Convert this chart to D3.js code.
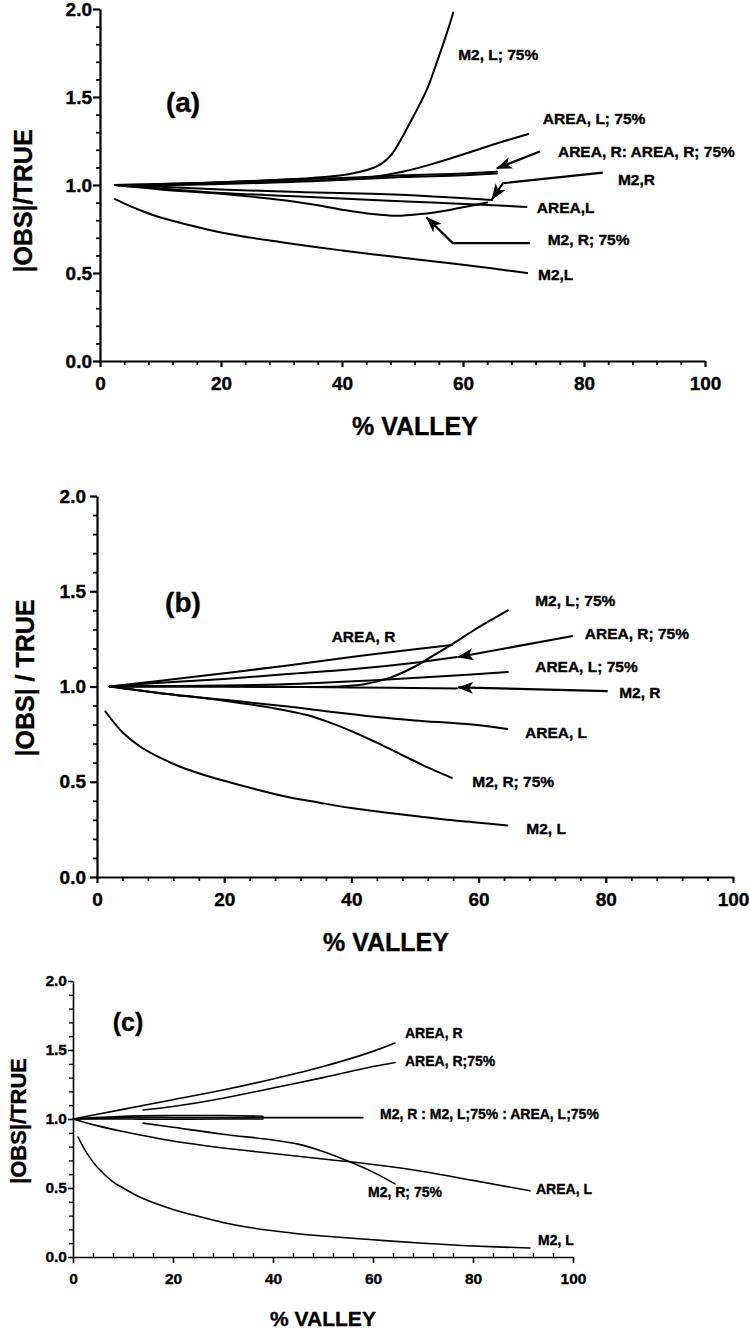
<!DOCTYPE html>
<html><head><meta charset="utf-8">
<script src="https://cdn.jsdelivr.net/npm/d3@7/dist/d3.min.js"></script>
<style>
body{margin:0;background:#fff}
svg{display:block}
text{font-family:"Liberation Sans",Arial,Helvetica,sans-serif;font-weight:bold;fill:#000;stroke:#000;stroke-width:0.35px}
</style></head>
<body><svg id="chart" width="750" height="1329"></svg>
<script>
// ---------- tick values / labels ----------
const xTickValues = [0, 20, 40, 60, 80, 100];
const yTickValues = [0, 0.5, 1.0, 1.5, 2.0];
const xTitle = "% VALLEY";

// ---------- panel (a) series: [% valley, |OBS|/TRUE] ----------
const a_M2_L = [[2.5,0.92],[5,0.88],[7.5,0.845],[10,0.815],[15,0.77],[20,0.73],[25,0.70],[30,0.675],[35,0.65],[40,0.628],[45,0.607],[50,0.587],[55,0.567],[60,0.547],[65,0.525],[70.6,0.50]];
const a_M2_L75 = [[2.5,1.0],[10,1.005],[20,1.015],[30,1.03],[35,1.04],[40,1.055],[43,1.075],[45,1.095],[46.5,1.12],[48,1.165],[49.6,1.25],[51.8,1.39],[54,1.54],[55.6,1.69],[57.3,1.86],[58.4,1.98]];
const a_AREA_L75 = [[2.5,1.0],[10,1.0],[20,1.005],[30,1.015],[40,1.03],[45,1.045],[50,1.075],[55,1.12],[60.6,1.18],[65,1.23],[70.8,1.29]];
const a_AREA_R = [[2.5,1.0],[10,1.005],[20,1.015],[30,1.03],[40,1.04],[50,1.055],[60,1.065],[65.6,1.075]];
const a_AREA_R75 = [[2.5,1.0],[10,1.0],[20,1.01],[30,1.02],[40,1.03],[50,1.045],[60,1.055],[65.6,1.065]];
const a_M2_R = [[2.5,1.0],[10,0.99],[20,0.975],[33,0.96],[45,0.95],[55,0.935],[64.8,0.915]];
const a_AREA_L = [[2.5,1.0],[10,0.98],[20,0.955],[33,0.935],[45,0.915],[55,0.90],[65,0.885],[70.5,0.875]];
const a_M2_R75 = [[2.5,1.0],[10,0.975],[20,0.95],[30,0.915],[35,0.89],[40,0.86],[45,0.835],[49,0.825],[53,0.835],[58,0.86],[64,0.90]];

// ---------- panel (b) series ----------
const b_M2_L = [[1.3,0.87],[4,0.76],[7,0.68],[10,0.625],[13,0.58],[16,0.545],[20,0.505],[25,0.46],[30,0.42],[35,0.39],[40,0.362],[45,0.34],[50,0.32],[55,0.30],[60,0.285],[64.5,0.27]];
const b_AREA_R = [[2,1.0],[10,1.03],[20,1.07],[30,1.11],[40,1.155],[50,1.195],[55.8,1.218]];
const b_AREA_R75 = [[2,1.0],[10,1.02],[20,1.04],[30,1.065],[40,1.09],[50,1.125],[56.6,1.155]];
const b_M2_L75 = [[2,1.0],[20,1.0],[38,1.0],[42,1.012],[46,1.045],[50,1.105],[53,1.165],[56,1.225],[59,1.29],[62,1.35],[64.6,1.40]];
const b_AREA_L75 = [[2,1.0],[20,1.005],[32,1.015],[45,1.035],[55,1.055],[64.6,1.076]];
const b_M2_R = [[2,1.0],[20,1.0],[40,0.995],[56.6,0.99]];
const b_AREA_L = [[2,1.0],[10,0.965],[20,0.93],[30,0.895],[36,0.87],[44,0.84],[50,0.822],[59,0.80],[64.5,0.777]];
const b_M2_R75 = [[2,1.0],[10,0.965],[20,0.925],[28,0.885],[33,0.85],[36,0.818],[40,0.766],[44,0.705],[48,0.64],[52,0.575],[55.8,0.52]];

// ---------- panel (c) series ----------
const c_M2_L = [[1,0.87],[2,0.80],[3,0.74],[5,0.645],[8,0.545],[10,0.50],[13,0.44],[16,0.395],[20,0.345],[25,0.295],[30,0.25],[35,0.215],[40,0.19],[45,0.168],[50,0.152],[60,0.125],[70,0.10],[80,0.08],[91.4,0.065]];
const c_AREA_R = [[0,1.0],[10,1.07],[20,1.14],[30,1.21],[40,1.29],[50,1.38],[60,1.49],[64.4,1.55]];
const c_AREA_R75 = [[14,1.065],[20,1.09],[30,1.15],[40,1.225],[50,1.30],[60,1.38],[64.4,1.41]];
const c_M2_R = [[0,1.0],[10,1.01],[20,1.01],[30,1.01],[40,1.01],[50,1.01],[58,1.01]];
const c_M2_L75 = [[0,1.0],[10,1.02],[20,1.025],[30,1.025],[38,1.02]];
const c_AREA_L75 = [[0,1.0],[10,1.0],[20,0.998],[30,1.0],[38,1.0]];
const c_AREA_L = [[0,1.0],[5,0.95],[10,0.91],[20,0.84],[30,0.79],[40,0.75],[50,0.71],[60,0.67],[70,0.62],[80,0.555],[91.4,0.48]];
const c_M2_R75 = [[14,0.97],[20,0.94],[30,0.89],[40,0.848],[45,0.818],[50,0.765],[55,0.695],[60,0.615],[64.4,0.53]];

// ---------- curve labels (anchored in data coordinates) ----------
const a_labels = [
  {t:"M2, L; 75%", x:59.2, y:1.74},
  {t:"AREA, L; 75%", x:73.2, y:1.38},
  {t:"AREA, R: AREA, R; 75%", x:75.7, y:1.19},
  {t:"M2,R", x:85.6, y:1.03},
  {t:"AREA,L", x:72.2, y:0.875},
  {t:"M2, R; 75%", x:74.0, y:0.69},
  {t:"M2,L", x:72.4, y:0.494}
];
const a_arrows = [
  [[72.7,1.19],[65.6,1.095]],
  [[83.1,1.07],[66.6,1.01],[64.8,0.92]],
  [[71.1,0.67],[58.3,0.67],[54.0,0.815]]
];
const b_labels = [
  {t:"AREA, R", x:36.9, y:1.265},
  {t:"M2, L; 75%", x:68.9, y:1.454},
  {t:"AREA, R; 75%", x:76.7, y:1.281},
  {t:"AREA, L; 75%", x:68.9, y:1.108},
  {t:"M2, R", x:82.1, y:0.971},
  {t:"AREA, L", x:67.3, y:0.761},
  {t:"M2, R; 75%", x:59.0, y:0.504},
  {t:"M2, L", x:67.5, y:0.257}
];
const b_arrows = [
  [[74.8,1.265],[56.8,1.155]],
  [[80.3,0.976],[56.8,0.995]]
];
const c_labels = [
  {t:"AREA, R", x:66.4, y:1.623},
  {t:"AREA, R;75%", x:66.4, y:1.42},
  {t:"M2, R : M2, L;75% : AREA, L;75%", x:61.4, y:1.036},
  {t:"M2, R; 75%", x:59.0, y:0.471},
  {t:"AREA, L", x:92.6, y:0.493},
  {t:"M2, L", x:93.0, y:0.123}
];
const c_arrows = [];

// ---------- layout ----------
const panels = [
  {tag:"(a)", yTitle:"|OBS|/TRUE", l:100, r:705, t:9, b:361,
   series:[a_M2_L,a_M2_L75,a_AREA_L75,a_AREA_R,a_AREA_R75,a_M2_R,a_AREA_L,a_M2_R75],
   labels:a_labels, arrows:a_arrows,
   lw:2, aw:2.2, tickFont:19, yTickSize:7, yPad:1, xPad:10, labelFont:15.5,
   tagPos:[183,102], tagFont:28, xTitlePos:[415,426], xTitleFont:25, yTitlePos:[23,201], yTitleFont:25, minorUp:false},
  {tag:"(b)", yTitle:"|OBS| / TRUE", l:97, r:733, t:496, b:877,
   series:[b_M2_L,b_AREA_R,b_AREA_R75,b_M2_L75,b_AREA_L75,b_M2_R,b_AREA_L,b_M2_R75],
   labels:b_labels, arrows:b_arrows,
   lw:2, aw:2.2, tickFont:19, yTickSize:7, yPad:4, xPad:10, labelFont:15.5,
   tagPos:[183,602], tagFont:28, xTitlePos:[386,942], xTitleFont:25, yTitlePos:[25,678], yTitleFont:25, minorUp:false},
  {tag:"(c)", yTitle:"|OBS|/TRUE", l:73, r:573, t:981, b:1257,
   series:[c_M2_L,c_AREA_R,c_AREA_R75,c_M2_R,c_M2_L75,c_AREA_L75,c_AREA_L,c_M2_R75],
   labels:c_labels, arrows:c_arrows,
   lw:1.6, aw:1.6, tickFont:15.5, yTickSize:5, yPad:1, xPad:10, labelFont:14,
   tagPos:[128,1022], tagFont:25, xTitlePos:[323,1318], xTitleFont:21, yTitlePos:[18,1121], yTitleFont:22, minorUp:true}
];

const svg = d3.select("#chart");
const defs = svg.append("defs");
defs.append("marker").attr("id","arrowhead")
  .attr("markerUnits","userSpaceOnUse")
  .attr("viewBox","0 0 16 12").attr("refX",15).attr("refY",6)
  .attr("markerWidth",16).attr("markerHeight",12).attr("orient","auto")
  .append("path").attr("d","M0,0 L16,6 L0,12 L4,6 Z").attr("fill","#000");

const fmt = d3.format(".1f");

panels.forEach(p => {
  const g = svg.append("g");
  const x = d3.scaleLinear().domain([0,100]).range([p.l,p.r]);
  const y = d3.scaleLinear().domain([0,2]).range([p.b,p.t]);

  // y minor ticks
  const yMinor = d3.range(0,20.5,1).map(d=>d/10).filter(v=>!yTickValues.some(t=>Math.abs(t-v)<1e-6));
  g.append("g").attr("transform",`translate(${p.l},0)`)
    .call(d3.axisLeft(y).tickValues(yMinor).tickSize(4).tickFormat(""))
    .call(s=>s.select(".domain").remove())
    .selectAll("line").attr("stroke","#000").attr("stroke-width",p.aw*0.8);
  // x minor ticks
  const xMinor = d3.range(0,101,4).filter(v=>v%20!==0);
  g.append("g").attr("transform",`translate(0,${p.b})`)
    .call(d3.axisBottom(x).tickValues(xMinor).tickSize(p.minorUp?-4:4).tickFormat(""))
    .call(s=>s.select(".domain").remove())
    .selectAll("line").attr("stroke","#000").attr("stroke-width",p.aw*0.8);

  // y major axis
  const ya = g.append("g").attr("transform",`translate(${p.l},0)`)
    .call(d3.axisLeft(y).tickValues(yTickValues).tickSizeInner(p.yTickSize).tickSizeOuter(0).tickPadding(p.yPad).tickFormat(fmt));
  ya.select(".domain").attr("stroke","#000").attr("stroke-width",p.aw);
  ya.selectAll(".tick line").attr("stroke","#000").attr("stroke-width",p.aw);
  ya.selectAll("text").attr("font-size",p.tickFont).attr("font-family",null).attr("fill",null).style("font-weight","bold");

  // x major axis
  const xa = g.append("g").attr("transform",`translate(0,${p.b})`)
    .call(d3.axisBottom(x).tickValues(xTickValues).tickSizeInner(6).tickSizeOuter(0).tickPadding(p.xPad).tickFormat(d3.format("d")));
  xa.select(".domain").attr("stroke","#000").attr("stroke-width",p.aw);
  xa.selectAll(".tick line").attr("stroke","#000").attr("stroke-width",p.aw);
  xa.selectAll("text").attr("font-size",p.tickFont).attr("font-family",null).attr("fill",null).style("font-weight","bold");

  // curves
  const line = d3.line().x(d=>x(d[0])).y(d=>y(d[1])).curve(d3.curveCatmullRom.alpha(0.5));
  g.append("g").selectAll("path").data(p.series).join("path")
    .attr("d",line).attr("fill","none").attr("stroke","#000")
    .attr("stroke-width",p.lw).attr("stroke-linejoin","round").attr("stroke-linecap","round");

  // arrows
  const aline = d3.line().x(d=>x(d[0])).y(d=>y(d[1]));
  g.append("g").selectAll("path").data(p.arrows).join("path")
    .attr("d",aline).attr("fill","none").attr("stroke","#000")
    .attr("stroke-width",p.aw).attr("marker-end","url(#arrowhead)");

  // labels
  g.append("g").selectAll("text").data(p.labels).join("text")
    .attr("x",d=>x(d.x)).attr("y",d=>y(d.y)).attr("dy","0.36em")
    .attr("font-size",p.labelFont).text(d=>d.t);

  // panel tag
  g.append("text").attr("x",p.tagPos[0]).attr("y",p.tagPos[1]).attr("dy","0.35em")
    .attr("text-anchor","middle").attr("font-size",p.tagFont).text(p.tag);

  // axis titles
  g.append("text").attr("x",p.xTitlePos[0]).attr("y",p.xTitlePos[1]).attr("dy","0.36em")
    .attr("text-anchor","middle").attr("font-size",p.xTitleFont).text(xTitle);
  g.append("text").attr("transform",`translate(${p.yTitlePos[0]},${p.yTitlePos[1]}) rotate(-90)`)
    .attr("dy","0.36em").attr("text-anchor","middle").attr("font-size",p.yTitleFont).text(p.yTitle);
});
</script>
</body></html>
